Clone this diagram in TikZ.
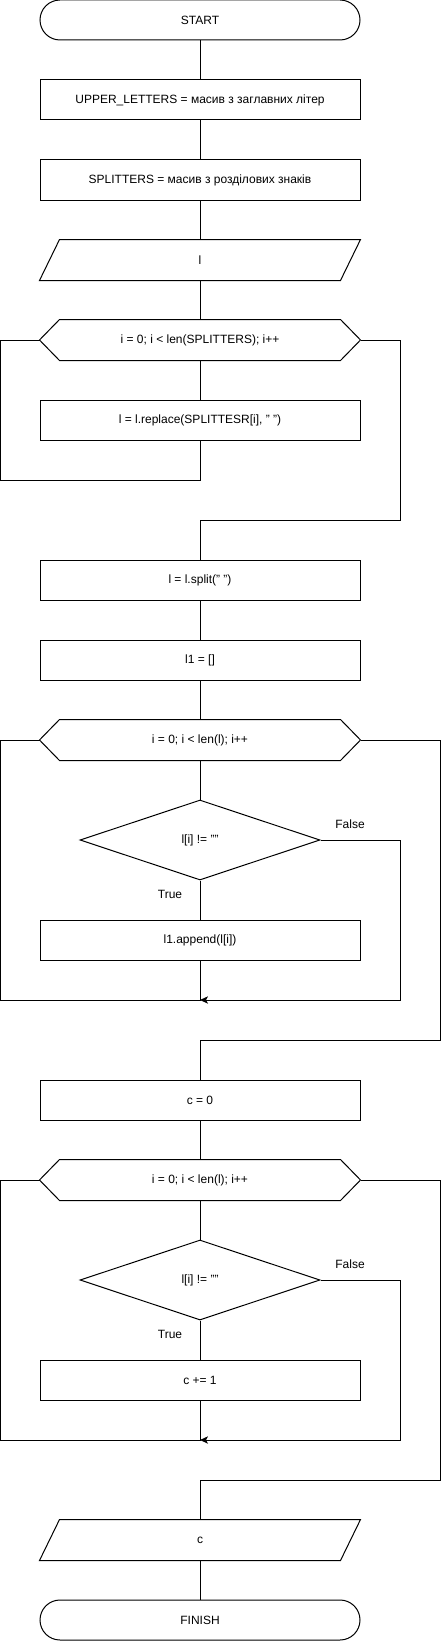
\documentclass[tikz,border=0pt]{standalone}
\usepackage{fontspec}
\setmainfont{Liberation Sans}
\usetikzlibrary{shapes.geometric, arrows.meta}

\begin{document}
\begin{tikzpicture}[x=0.75pt, y=-0.75pt, line width=0.75pt,
  every node/.style={font=\fontsize{9pt}{11pt}\selectfont},
  box/.style={rectangle, minimum width=240pt, minimum height=30pt, inner sep=0pt},
  proc/.style={box, draw},
  term/.style={proc, rounded corners=15pt},
  cond/.style={draw, diamond, minimum width=180pt, minimum height=60pt, inner sep=0pt},
  back/.style={-{Stealth[length=6pt, width=5.5pt, inset=1.5pt]}}]
  \useasboundingbox (0,0) rectangle (442,1641);

  \node[term] (start) at (200,20) {START};
  \node[proc] (upper) at (200,100) {UPPER\_LETTERS = масив з заглавних літер};
  \node[proc] (split) at (200,180) {SPLITTERS = масив з розділових знаків};
  \node[box] (inl) at (200,260) {l};
  \node[box] (fora) at (200,340) {i = 0; i < len(SPLITTERS); i++};
  \node[proc] (repl) at (200,420) {l = l.replace(SPLITTESR[i], " ")};

  \node[proc] (splt) at (200,580) {l = l.split(" ")};
  \node[proc] (lone) at (200,660) {l1 = []};
  \node[box] (forb) at (200,740) {i = 0; i < len(l); i++};
  \node[cond] (ifb) at (200,840) {l[i] != ""};
  \node[proc] (app) at (200,940) {l1.append(l[i])};
  \node (tb) at (170,894) {True};
  \node (fb) at (350,824) {False};

  \node[proc] (czero) at (200,1100) {c = 0};
  \node[box] (forc) at (200,1180) {i = 0; i < len(l); i++};
  \node[cond] (ifc) at (200,1280) {l[i] != ""};
  \node[proc] (inc) at (200,1380) {c += 1};
  \node (tc) at (170,1334) {True};
  \node (fc) at (350,1264) {False};

  \node[box] (outc) at (200,1540) {c};
  \node[term] (finish) at (200,1620) {FINISH};

  % outlines of the input/output and loop boxes
  \foreach \n in {inl, outc}
    \draw ([xshift=15pt]\n.north west) -- (\n.north east) -- ([xshift=-15pt]\n.south east) -- (\n.south west) -- cycle;
  \foreach \n in {fora, forb, forc}
    \draw (\n.west) -- ([xshift=15pt]\n.north west) -- ([xshift=-15pt]\n.north east) -- (\n.east) -- ([xshift=-15pt]\n.south east) -- ([xshift=15pt]\n.south west) -- cycle;

  % loop corners
  \coordinate (ja) at (200,480);
  \coordinate (la) at (0,480);
  \coordinate (xa) at (400,520);
  \coordinate (jb) at (200,1000);
  \coordinate (lb) at (0,1000);
  \coordinate (rb) at (400,1000);
  \coordinate (xb) at (440,1040);
  \coordinate (jc) at (200,1440);
  \coordinate (lc) at (0,1440);
  \coordinate (rc) at (400,1440);
  \coordinate (xc) at (440,1480);

  \draw (start) -- (upper);
  \draw (upper) -- (split);
  \draw (split) -- (inl);
  \draw (inl) -- (fora);
  \draw (fora) -- (repl);
  \draw (repl) -- (ja) -- (la) |- (fora.west);
  \draw (fora.east) -| (xa) -| (splt.north);

  \draw (splt) -- (lone);
  \draw (lone) -- (forb);
  \draw (forb) -- (ifb);
  \draw (ifb) -- (app);
  \draw (app) -- (jb) -- (lb) |- (forb.west);
  \draw[back] (ifb.east) -| (rb) -- (jb);
  \draw (forb.east) -| (xb) -| (czero.north);

  \draw (czero) -- (forc);
  \draw (forc) -- (ifc);
  \draw (ifc) -- (inc);
  \draw (inc) -- (jc) -- (lc) |- (forc.west);
  \draw[back] (ifc.east) -| (rc) -- (jc);
  \draw (forc.east) -| (xc) -| (outc.north);

  \draw (outc) -- (finish);
\end{tikzpicture}
\end{document}
